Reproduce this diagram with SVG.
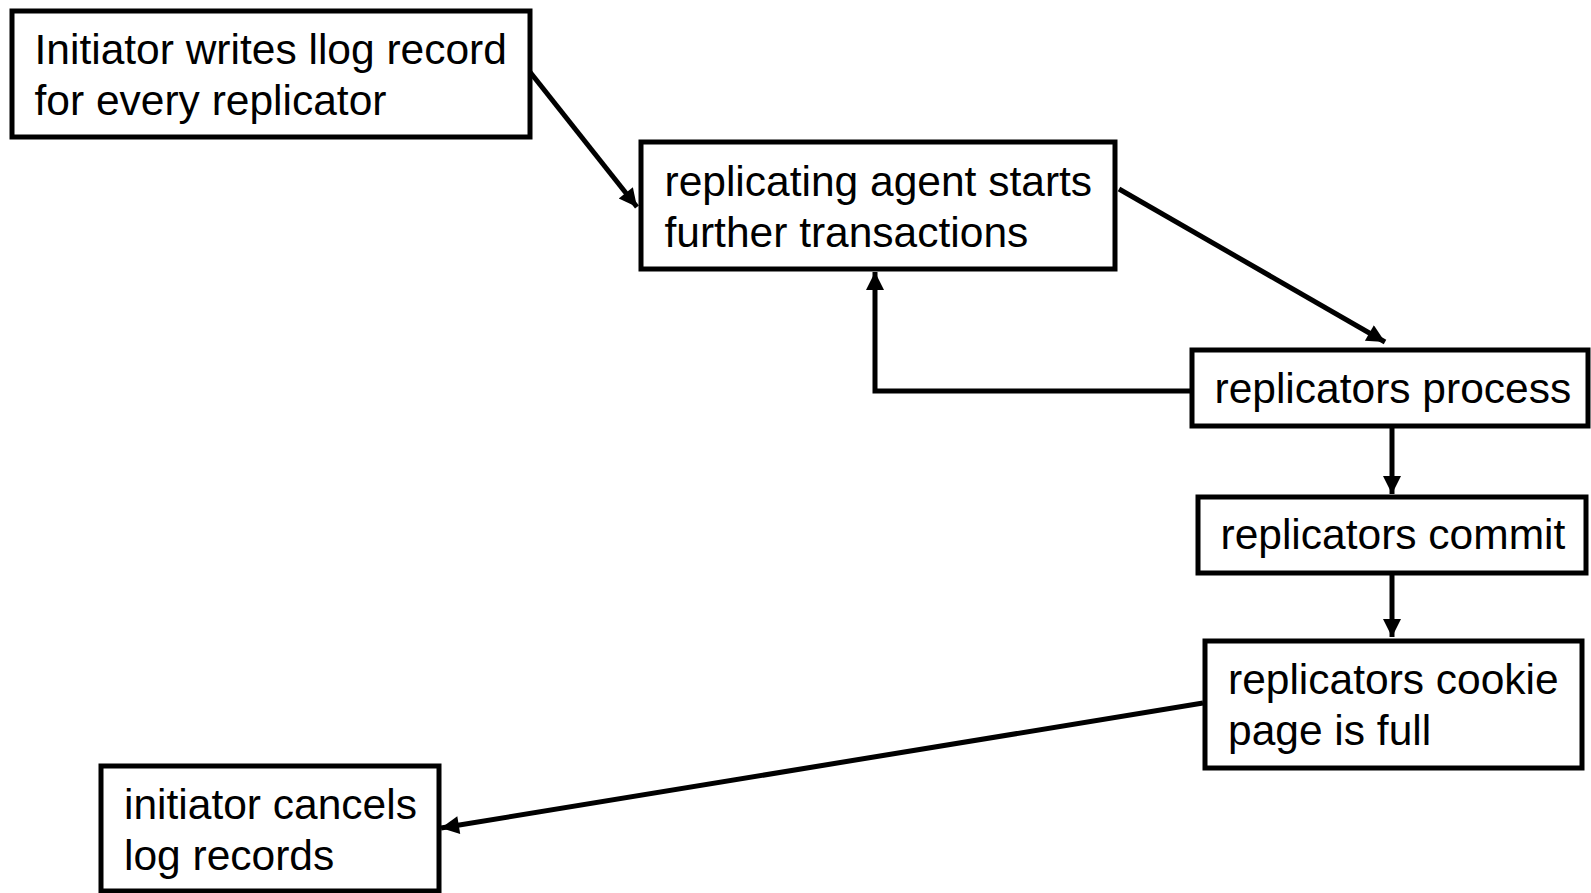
<svg xmlns="http://www.w3.org/2000/svg" width="1591" height="893" viewBox="0 0 1591 893">
<style>
.box{fill:#fff;stroke:#000;stroke-width:5}
.t{font-family:"Liberation Sans",Arial,sans-serif;font-size:42.5px;fill:#000}
.c{fill:none;stroke:#000;stroke-width:5}
</style>
<defs>
<marker id="ah" viewBox="0 0 10 10" refX="10" refY="5" markerWidth="4" markerHeight="3.6" orient="auto" markerUnits="strokeWidth">
<path d="M0,0 L10,5 L0,10 z" fill="#000"/>
</marker>
</defs>
<rect width="1591" height="893" fill="#fff"/>
<g id="connectors">
<path class="c" d="M530,72 L637,207" marker-end="url(#ah)"/>
<path class="c" d="M1119,189 L1385,342" marker-end="url(#ah)"/>
<path class="c" d="M1190,391 L875,391 L875,272" marker-end="url(#ah)"/>
<path class="c" d="M1392,427 L1392,494" marker-end="url(#ah)"/>
<path class="c" d="M1392,574 L1392,637" marker-end="url(#ah)"/>
<path class="c" d="M1203,703 L441,828" marker-end="url(#ah)"/>
</g>
<g id="n1"><rect class="box" x="12" y="11" width="518" height="126"/>
<text class="t" x="34.5" y="64">Initiator writes llog record</text>
<text class="t" x="34.5" y="114.5">for every replicator</text></g>
<g id="n2"><rect class="box" x="641" y="142" width="474" height="127"/>
<text class="t" x="664.5" y="196">replicating agent starts</text>
<text class="t" x="664.5" y="246.5">further transactions</text></g>
<g id="n3"><rect class="box" x="1192" y="350" width="396" height="76"/>
<text class="t" x="1214.5" y="403">replicators process</text></g>
<g id="n4"><rect class="box" x="1198" y="497" width="388" height="76"/>
<text class="t" x="1220.5" y="549">replicators commit</text></g>
<g id="n5"><rect class="box" x="1205" y="641" width="377" height="127"/>
<text class="t" x="1228" y="694">replicators cookie</text>
<text class="t" x="1228" y="744.5">page is full</text></g>
<g id="n6"><rect class="box" x="101" y="766" width="338" height="125"/>
<text class="t" x="124" y="819">initiator cancels</text>
<text class="t" x="124" y="869.5">log records</text></g>
</svg>
